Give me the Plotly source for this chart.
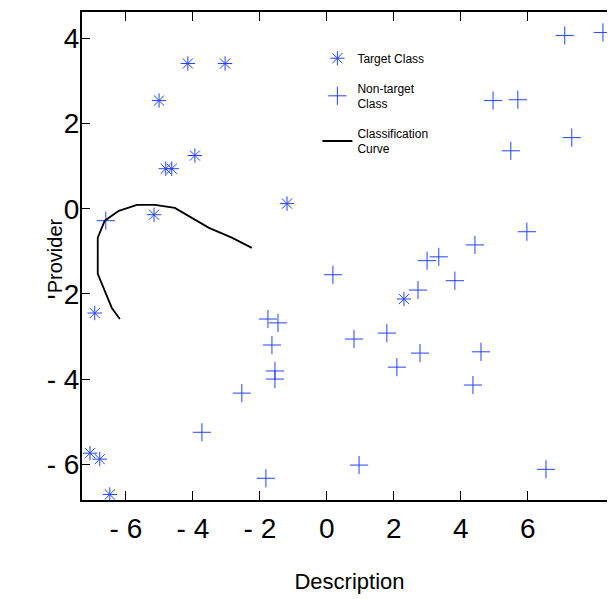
import plotly.graph_objects as go

# Target class (asterisk markers)
target_x = [-4.15, -3.04, -5.01, -3.94, -4.81, -4.63, -1.19, -5.16, -6.93, 2.30, -7.07, -6.78, -6.48]
target_y = [3.41, 3.41, 2.54, 1.25, 0.94, 0.94, 0.12, -0.14, -2.45, -2.12, -5.74, -5.88, -6.71]

# Non-target class (plus markers)
nontarget_x = [7.10, 8.24, 4.96, 5.70, 5.49, 7.31, 5.97, 4.42, 0.18, 2.99, 3.34, 3.82, 2.72,
               -1.76, -1.46, -1.64, -1.55, -1.55, 0.81, 1.79, 2.78, 2.09, 4.60, 4.36,
               -2.54, -3.73, -1.82, 0.96, 6.54, -6.60]
nontarget_y = [4.07, 4.14, 2.54, 2.56, 1.36, 1.67, -0.54, -0.85, -1.55, -1.22, -1.13, -1.69, -1.91,
               -2.59, -2.68, -3.20, -3.81, -4.00, -3.06, -2.92, -3.39, -3.72, -3.36, -4.14,
               -4.33, -5.25, -6.33, -6.02, -6.12, -0.28]

# Classification curve
curve_x = [-6.18, -6.42, -6.84, -6.84, -6.63, -6.21, -5.67, -5.13, -4.54, -3.52, -2.84, -2.24]
curve_y = [-2.59, -2.33, -1.53, -0.68, -0.28, -0.05, 0.09, 0.09, 0.02, -0.45, -0.68, -0.92]

x_tickvals = [-6, -4, -2, 0, 2, 4, 6]
x_ticktext = ["- 6", "- 4", "- 2", "0", "2", "4", "6"]
y_tickvals = [4, 2, 0, -2, -4, -6]
y_ticktext = ["4", "2", "0", "- 2", "- 4", "- 6"]

blue = "#2443ff"

fig = go.Figure()
fig.add_trace(go.Scatter(
    x=target_x, y=target_y, mode="markers", name="Target Class",
    legendgroup="a",
    marker=dict(symbol="asterisk-open", size=12, color=blue, line=dict(color=blue, width=1)),
))
fig.add_trace(go.Scatter(
    x=nontarget_x, y=nontarget_y, mode="markers", name="Non-target<br>Class",
    legendgroup="b",
    marker=dict(symbol="cross-thin-open", size=13, color=blue, line=dict(color=blue, width=1)),
))
fig.add_trace(go.Scatter(
    x=curve_x, y=curve_y, mode="lines", name="Classification<br>Curve",
    legendgroup="c",
    line=dict(color="black", width=1.8),
))

fig.update_layout(
    width=615, height=599,
    margin=dict(l=74, r=6, t=4, b=107, autoexpand=False),
    paper_bgcolor="white", plot_bgcolor="white",
    font=dict(family="Liberation Sans, Arial, sans-serif", color="black"),
    showlegend=True,
    legend=dict(
        x=0.44, y=0.935, xanchor="left", yanchor="top",
        bgcolor="rgba(0,0,0,0)", borderwidth=0,
        font=dict(size=12), traceorder="grouped", tracegroupgap=11,
    ),
    xaxis=dict(
        range=[-7.31, 8.66], tickvals=x_tickvals, ticktext=x_ticktext,
        ticks="inside", ticklen=9, tickcolor="black", tickwidth=1,
        showline=True, linecolor="black", linewidth=2, mirror="ticks",
        showgrid=False, zeroline=False, automargin=False,
        tickfont=dict(size=28), ticklabelstandoff=2,
        title=dict(text="Description", font=dict(size=22), standoff=31),
    ),
    yaxis=dict(
        range=[-6.84, 4.62], tickvals=y_tickvals, ticktext=y_ticktext,
        ticks="inside", ticklen=8, tickcolor="black", tickwidth=1,
        showline=True, linecolor="black", linewidth=2, mirror=False,
        showgrid=False, zeroline=False, automargin=False,
        tickfont=dict(size=28), ticklabelstandoff=-5,
    ),
    annotations=[dict(
        text="Provider", xref="paper", yref="paper", x=-0.05, y=0.5,
        textangle=-90, showarrow=False, font=dict(size=20),
        xanchor="center", yanchor="middle",
    )],
)

fig.write_html("out.html")
